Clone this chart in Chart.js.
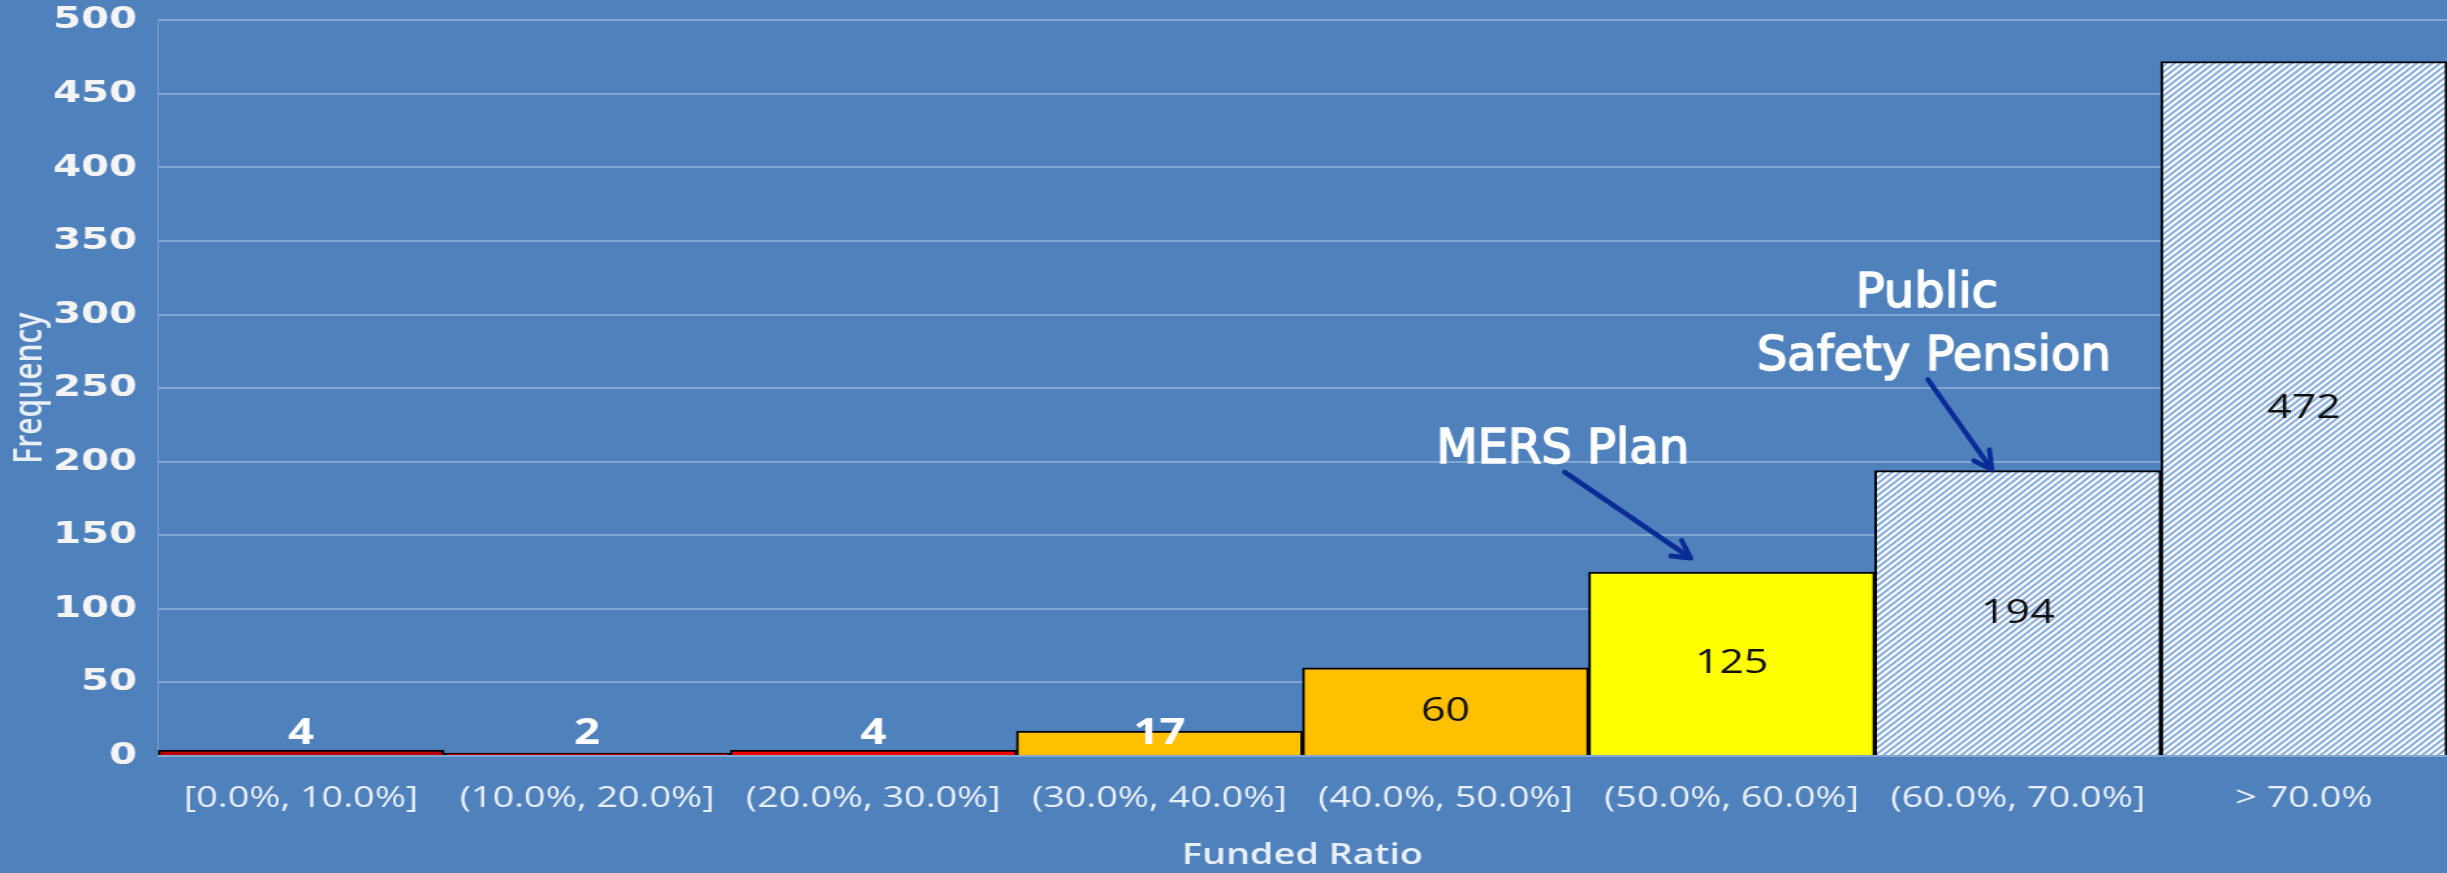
<!DOCTYPE html>
<html>
<head>
<meta charset="utf-8">
<script src="https://cdn.jsdelivr.net/npm/chart.js@4.4.0/dist/chart.umd.min.js"></script>
<style>
    html, body { margin: 0; padding: 0; background: #4F81BD; overflow: hidden; }
    /* the source picture is a horizontally stretched Excel chart, so the canvas is stretched too */
    #wrap { position: absolute; left: 0; top: 0; width: 1880px; height: 873px;
            transform-origin: 0 0; transform: scaleX(1.30160); }
</style>
</head>
<body>
<div id="wrap"><canvas id="histogram"></canvas></div>
<script>
const STRETCH = 2447 / 1880;

const categories = ['[0.0%, 10.0%]', '(10.0%, 20.0%]', '(20.0%, 30.0%]', '(30.0%, 40.0%]',
                    '(40.0%, 50.0%]', '(50.0%, 60.0%]', '(60.0%, 70.0%]', '> 70.0%'];
const frequencies = [4, 2, 4, 17, 60, 125, 194, 472];
const yTicks = [0, 50, 100, 150, 200, 250, 300, 350, 400, 450, 500];

// annotation texts, pointing at a bar
const notes = [
    { bar: 5, lines: ['MERS Plan'], dx: [-169], dy: [-109], tail: [-167, -100], tip: [-41, -14] },
    { bar: 6, lines: ['Public', 'Safety Pension'], dx: [-91, -84], dy: [-164, -101], tail: [-90, -91], tip: [-26, -1] }
];

function hatch() {
    const c = document.createElement('canvas');
    c.width = 6; c.height = 6;
    const g = c.getContext('2d');
    g.fillStyle = '#FFFFFF';
    g.fillRect(0, 0, 6, 6);
    g.strokeStyle = '#8AAEDC';
    g.lineWidth = 2;
    g.beginPath();
    g.moveTo(-1, 7); g.lineTo(7, -1);
    g.moveTo(-4, 4); g.lineTo(4, -4);
    g.moveTo(2, 10); g.lineTo(10, 2);
    g.stroke();
    return g.createPattern(c, 'repeat');
}

const ctx = document.getElementById('histogram').getContext('2d');
const pattern = hatch();
const barColors = ['#C00000', '#B00000', '#FF0000', '#FFC000', '#FFC000', '#FFFF00', pattern, pattern];

const barLabels = {
    id: 'barLabels',
    afterDatasetsDraw(chart) {
        const c = chart.ctx;
        const meta = chart.getDatasetMeta(0);
        const base = chart.scales.y.getPixelForValue(0);
        c.save();
        c.textAlign = 'center';
        c.textBaseline = 'middle';
        meta.data.forEach((bar, i) => {
            const small = frequencies[i] < 20;
            c.font = small ? 'bold 35px "Open Sans"' : '33px "Open Sans"';
            c.fillStyle = small ? '#FFFFFF' : '#111111';
            const y = Math.min((bar.y + base) / 2, base - 22);
            c.fillText(String(frequencies[i]), bar.x, y);
        });
        c.restore();
    }
};

const callouts = {
    id: 'callouts',
    afterDraw(chart) {
        const c = chart.ctx;
        const meta = chart.getDatasetMeta(0);
        c.save();
        c.scale(1 / STRETCH, 1);
        notes.forEach(n => {
            const bar = meta.data[n.bar];
            const bx = bar.x * STRETCH, by = bar.y;
            c.font = '48px "DejaVu Sans"';
            c.fillStyle = '#FFFFFF';
            c.strokeStyle = '#FFFFFF';
            c.lineWidth = 1.6;
            c.textAlign = 'center';
            c.textBaseline = 'alphabetic';
            n.lines.forEach((t, k) => {
                c.fillText(t, bx + n.dx[k], by + n.dy[k]);
                c.strokeText(t, bx + n.dx[k], by + n.dy[k]);
            });

            const x1 = bx + n.tail[0], y1 = by + n.tail[1];
            const x2 = bx + n.tip[0], y2 = by + n.tip[1];
            const a = Math.atan2(y2 - y1, x2 - x1);
            c.strokeStyle = '#0A2C96';
            c.lineWidth = 5;
            c.lineCap = 'round';
            c.lineJoin = 'round';
            c.beginPath();
            c.moveTo(x1, y1); c.lineTo(x2, y2);
            c.moveTo(x2 - 20 * Math.cos(a - 0.5), y2 - 20 * Math.sin(a - 0.5));
            c.lineTo(x2, y2);
            c.lineTo(x2 - 20 * Math.cos(a + 0.5), y2 - 20 * Math.sin(a + 0.5));
            c.stroke();
        });
        c.restore();
    }
};

const histogram = new Chart(ctx, {
    type: 'bar',
    data: {
        labels: categories,
        datasets: [{
            data: frequencies,
            backgroundColor: barColors,
            borderColor: '#000000',
            borderWidth: 2,
            categoryPercentage: 1.0,
            barPercentage: 1.0
        }]
    },
    options: {
        responsive: true,
        maintainAspectRatio: false,
        animation: false,
        layout: { padding: { top: 0, right: -2, bottom: 0, left: 0 } },
        plugins: {
            legend: { display: false },
            tooltip: { enabled: false }
        },
        scales: {
            x: {
                grid: { display: false, drawTicks: false },
                border: { display: false },
                ticks: {
                    color: '#E9EFF7',
                    font: { family: 'Open Sans', size: 29, lineHeight: 1.2 },
                    padding: 25,
                    maxRotation: 0,
                    autoSkip: false
                },
                title: {
                    display: true,
                    text: 'Funded Ratio',
                    color: '#E9EFF7',
                    font: { family: 'Open Sans', size: 29, weight: '600', lineHeight: 1.2 },
                    padding: { top: 0, bottom: 0 }
                },
                afterFit: s => { s.height = 873 - 756; }
            },
            y: {
                min: 0,
                max: 500,
                afterBuildTicks: s => { s.ticks = yTicks.map(v => ({ value: v })); },
                grid: { color: 'rgba(255,255,255,0.3)', lineWidth: 2, drawTicks: false },
                border: { display: true, color: 'rgba(255,255,255,0.25)', width: 1 },
                ticks: {
                    color: '#F4F4F4',
                    font: { family: 'DejaVu Sans', size: 31, weight: 'bold', lineHeight: 0.28 },
                    padding: 16
                },
                title: {
                    display: true,
                    text: 'Frequency',
                    color: '#E9EFF7',
                    font: { family: 'Open Sans', size: 30, weight: '600', lineHeight: 1.2 },
                    padding: { top: 5, bottom: 0 }
                },
                afterFit: s => { s.width = 158 / STRETCH; }
            }
        }
    },
    plugins: [barLabels, callouts]
});
</script>
</body>
</html>
